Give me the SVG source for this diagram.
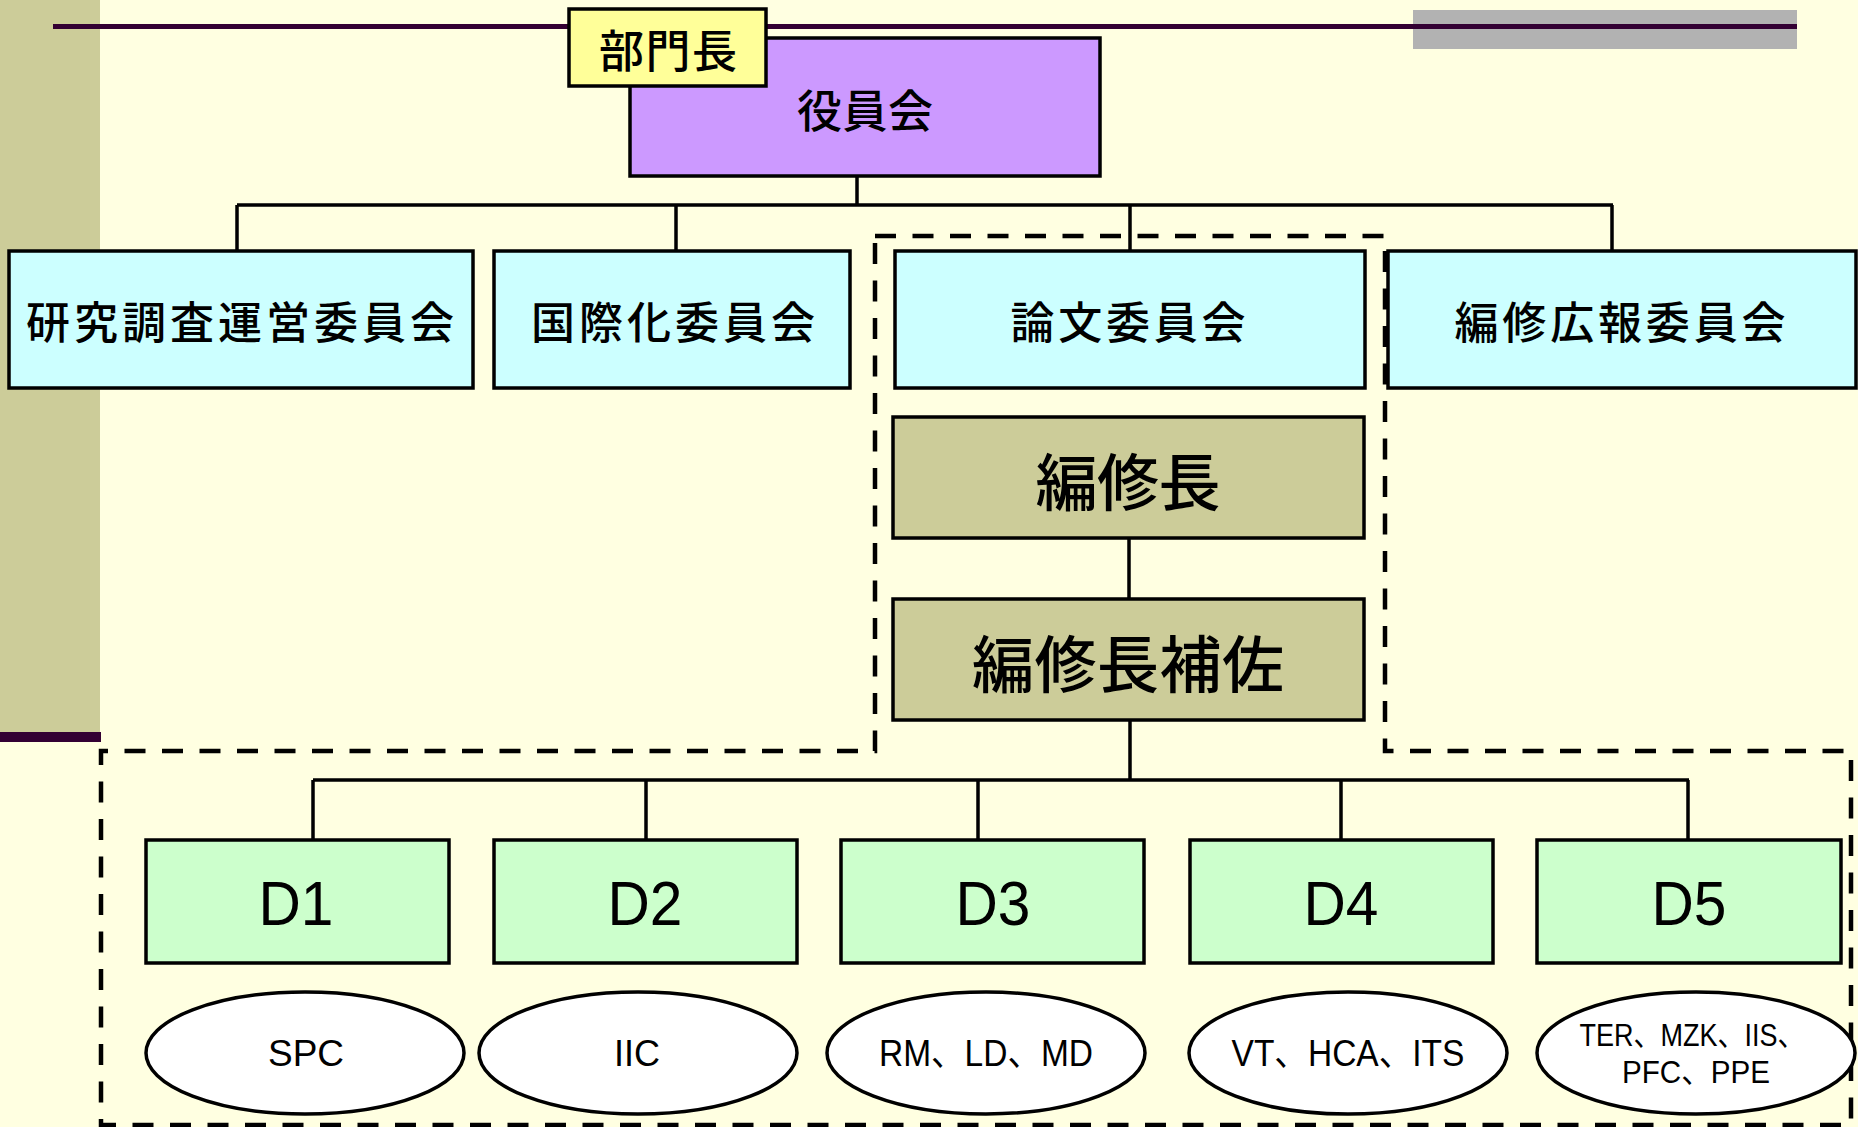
<svg xmlns="http://www.w3.org/2000/svg" width="1858" height="1127" viewBox="0 0 1858 1127">
<style>
.box{stroke:#000;stroke-width:3.5}
.cyan{fill:#CCFFFF}
.olive{fill:#CCCC99}
.green{fill:#CCFFCC}
.ell{fill:#fff;stroke:#000;stroke-width:3.5}
.jp{font-family:"Noto Sans CJK JP","Noto Sans CJK SC",sans-serif;font-weight:500;fill:#000;text-anchor:middle;dominant-baseline:central}
.lat{font-family:"Liberation Sans","Noto Sans CJK JP",sans-serif;fill:#000;text-anchor:middle}
.conn{stroke:#000;stroke-width:3.5;fill:none}
.dash{stroke:#000;stroke-width:4.5;fill:none;stroke-dasharray:21 16.5}
</style>
<rect x="0" y="0" width="1858" height="1127" fill="#FFFFE1"/>
<g id="decor">
<rect x="0" y="0" width="100" height="732" fill="#CCCC99"/>
<rect x="0" y="732" width="101" height="10" fill="#330033"/>
<rect x="1413" y="10" width="384" height="39" fill="#B2B2B2"/>
<rect x="53" y="24" width="1744" height="5" fill="#330033"/>
</g>
<g id="connectors">
<path class="conn" d="M857 176V205M237 205H1613M237 205V251M676 205V251M1130 205V251M1612 205V251"/>
<path class="conn" d="M1129 538V599M1130 720V780M313 780H1689M313 780V840M646 780V840M978 780V840M1341 780V840M1688 780V840"/>
<path class="dash" d="M875 236H1385V751H1851V1125H101V751H875Z"/>
</g>
<g id="yakuinkai">
<rect class="box" x="630" y="38" width="470" height="138" fill="#CC99FF"/>
<text class="jp" x="865" y="108" font-size="45" textLength="136" lengthAdjust="spacing">役員会</text>
</g>
<g id="bumoncho">
<rect class="box" x="569" y="9" width="197" height="77" fill="#FFFF99"/>
<text class="jp" x="668" y="48" font-size="45" textLength="138" lengthAdjust="spacing">部門長</text>
</g>
<g id="kenkyu">
<rect class="box cyan" x="9" y="251" width="464" height="137"/>
<text class="jp" x="240" y="320" font-size="44" textLength="428" lengthAdjust="spacing">研究調査運営委員会</text>
</g>
<g id="kokusai">
<rect class="box cyan" x="494" y="251" width="356" height="137"/>
<text class="jp" x="673" y="320" font-size="44" textLength="284" lengthAdjust="spacing">国際化委員会</text>
</g>
<g id="ronbun">
<rect class="box cyan" x="895" y="251" width="470" height="137"/>
<text class="jp" x="1128" y="320" font-size="44" textLength="235" lengthAdjust="spacing">論文委員会</text>
</g>
<g id="henshu-koho">
<rect class="box cyan" x="1388" y="251" width="468" height="137"/>
<text class="jp" x="1620" y="320" font-size="44" textLength="331" lengthAdjust="spacing">編修広報委員会</text>
</g>
<g id="henshucho">
<rect class="box olive" x="893" y="417" width="471" height="121"/>
<text class="jp" x="1128" y="479" font-size="62" textLength="185" lengthAdjust="spacing">編修長</text>
</g>
<g id="henshucho-hosa">
<rect class="box olive" x="893" y="599" width="471" height="121"/>
<text class="jp" x="1128" y="661" font-size="62" textLength="312" lengthAdjust="spacing">編修長補佐</text>
</g>
<g id="d1">
<rect class="box green" x="146" y="840" width="303" height="123"/>
<text class="lat" x="296" y="925" font-size="63" textLength="75" lengthAdjust="spacingAndGlyphs">D1</text>
</g>
<g id="d2">
<rect class="box green" x="494" y="840" width="303" height="123"/>
<text class="lat" x="645" y="925" font-size="63" textLength="75" lengthAdjust="spacingAndGlyphs">D2</text>
</g>
<g id="d3">
<rect class="box green" x="841" y="840" width="303" height="123"/>
<text class="lat" x="993" y="925" font-size="63" textLength="75" lengthAdjust="spacingAndGlyphs">D3</text>
</g>
<g id="d4">
<rect class="box green" x="1190" y="840" width="303" height="123"/>
<text class="lat" x="1341" y="925" font-size="63" textLength="75" lengthAdjust="spacingAndGlyphs">D4</text>
</g>
<g id="d5">
<rect class="box green" x="1537" y="840" width="304" height="123"/>
<text class="lat" x="1689" y="925" font-size="63" textLength="75" lengthAdjust="spacingAndGlyphs">D5</text>
</g>
<g id="e1">
<ellipse class="ell" cx="305" cy="1053" rx="159" ry="61"/>
<text class="lat" x="306" y="1066" font-size="37" textLength="76" lengthAdjust="spacingAndGlyphs">SPC</text>
</g>
<g id="e2">
<ellipse class="ell" cx="638" cy="1053" rx="159" ry="61"/>
<text class="lat" x="637" y="1066" font-size="37" textLength="46" lengthAdjust="spacingAndGlyphs">IIC</text>
</g>
<g id="e3">
<ellipse class="ell" cx="986" cy="1053" rx="159" ry="61"/>
<text class="lat" x="986" y="1066" font-size="37" textLength="214" lengthAdjust="spacingAndGlyphs">RM、LD、MD</text>
</g>
<g id="e4">
<ellipse class="ell" cx="1348" cy="1053" rx="159" ry="61"/>
<text class="lat" x="1348" y="1066" font-size="37" textLength="233" lengthAdjust="spacingAndGlyphs">VT、HCA、ITS</text>
</g>
<g id="e5">
<ellipse class="ell" cx="1696" cy="1053" rx="159" ry="61"/>
<text class="lat" x="1692" y="1046" font-size="31" textLength="225" lengthAdjust="spacingAndGlyphs">TER、MZK、IIS、</text>
<text class="lat" x="1696" y="1083" font-size="31" textLength="148" lengthAdjust="spacingAndGlyphs">PFC、PPE</text>
</g>
</svg>
